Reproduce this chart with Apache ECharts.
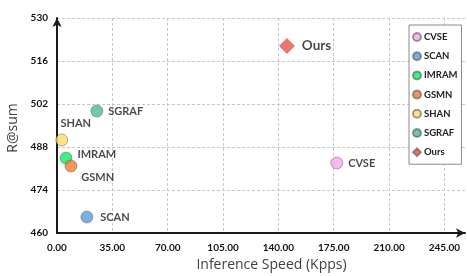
<!DOCTYPE html>
<html>
<head>
<meta charset="utf-8">
<script src="https://cdn.jsdelivr.net/npm/echarts@6/dist/echarts.min.js"></script>
<style>
  html, body { margin: 0; padding: 0; background: #fff; }
  #chart { width: 467px; height: 276px; }
</style>
</head>
<body>
<div id="chart"></div>
<script>
const methods = ['CVSE', 'SCAN', 'IMRAM', 'GSMN', 'SHAN', 'SGRAF', 'Ours']
const speed = [176.9, 18.9, 5.7, 8.8, 3.0, 25.2, 145.4]
const rsum = [482.8, 465.2, 484.4, 481.8, 490.3, 499.7, 520.9]
const colors = ['#F2A6EC', '#5B9BD5', '#12E865', '#ED7D31', '#FFD966', '#4DB6A0', '#F0504A']
const xMin = 0, xMax = 258, xStep = 35
const yMin = 460, yMax = 530, yStep = 14

// label placement per method (position, offset)
const labelPos = {
  CVSE: ['right', [0, 0]],
  SCAN: ['right', [2, 0]],
  IMRAM: ['right', [0, -4]],
  GSMN: ['right', [-1, 11]],
  SHAN: ['top', [14, 0]],
  SGRAF: ['right', [0, 0]],
  Ours: ['right', [2, 0]]
}

const FONT = 'Lato'
const NAME_FONT = 'Open Sans'

const series = methods.map((name, i) => ({
  name,
  type: 'scatter',
  symbol: name === 'Ours' ? 'diamond' : 'circle',
  symbolSize: name === 'Ours' ? 15 : 12,
  itemStyle: {
    color: colors[i],
    borderColor: 'rgba(60,60,60,0.6)',
    borderWidth: 0.8
  },
  label: {
    show: true,
    formatter: name,
    position: labelPos[name][0],
    offset: labelPos[name][1],
    distance: 5,
    color: '#1a1a1a',
    fontFamily: FONT,
    fontWeight: 'bold',
    fontSize: name === 'Ours' ? 13.5 : 11
  },
  data: [[speed[i], rsum[i]]]
}))

const axisLabel = { color: '#111', fontFamily: FONT, fontWeight: 'bold', fontSize: 10 }
const splitLine = { show: true, lineStyle: { type: [3, 2], color: '#c8c8c8', width: 1 } }

const chart = echarts.init(document.getElementById('chart'))
chart.setOption({
  animation: false,
  grid: { left: 57, right: 2, top: 18, bottom: 43, outerBoundsMode: 'none' },
  legend: {
    orient: 'vertical',
    left: 409,
    top: 25,
    itemWidth: 8,
    itemHeight: 8,
    itemGap: 9.2,
    padding: [7, 4, 7, 3],
    borderColor: '#8a8a8a',
    borderWidth: 1,
    backgroundColor: '#fff',
    textStyle: { fontFamily: FONT, fontWeight: 'bold', fontSize: 9.5, lineHeight: 9, color: '#222', padding: [0, 0, 0, -2] },
    data: methods
  },
  xAxis: {
    type: 'value',
    min: xMin,
    max: xMax,
    interval: xStep,
    name: 'Inference Speed (Kpps)',
    nameLocation: 'middle',
    nameGap: 25,
    nameTextStyle: { fontFamily: NAME_FONT, fontSize: 14, color: '#404040', padding: [0, 0, 0, 21] },
    axisLine: { lineStyle: { color: '#1a1a1a', width: 2 }, symbol: ['none', 'arrow'], symbolSize: [7, 9] },
    axisTick: { show: false },
    axisLabel: { ...axisLabel, margin: 10, showMaxLabel: false, formatter: (v) => v.toFixed(2) },
    splitLine: { ...splitLine, showMaxLine: false }
  },
  yAxis: {
    type: 'value',
    min: yMin,
    max: yMax,
    interval: yStep,
    name: 'R@sum',
    nameLocation: 'middle',
    nameGap: 35,
    nameTextStyle: { fontFamily: NAME_FONT, fontSize: 14, color: '#404040', padding: [0, 5, 0, 0] },
    axisLine: { lineStyle: { color: '#1a1a1a', width: 2 }, symbol: ['none', 'arrow'], symbolSize: [7, 9] },
    axisTick: { show: false },
    axisLabel: { ...axisLabel, margin: 9 },
    splitLine
  },
  series
})
</script>
</body>
</html>
